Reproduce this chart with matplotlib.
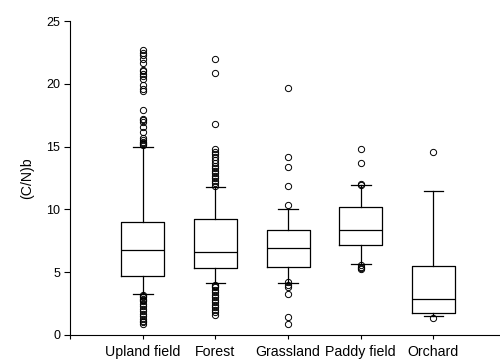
import matplotlib
matplotlib.use("Agg")
import matplotlib.pyplot as plt

plt.rcParams['font.family'] = ['Liberation Sans', 'DejaVu Sans']

categories = ["Upland field", "Forest", "Grassland", "Paddy field", "Orchard"]
q1 = [4.7, 5.3, 5.4, 7.2, 1.75]
med = [6.8, 6.65, 6.9, 8.4, 2.9]
q3 = [9.0, 9.25, 8.4, 10.2, 5.5]
whislo = [3.3, 4.15, 4.15, 5.65, 1.5]
whishi = [15.0, 11.8, 10.05, 11.95, 11.5]
fliers_upland = [15.1, 15.2, 15.3, 15.4, 15.5, 15.7, 16.2, 16.6, 17.0, 17.1, 17.2, 17.9,
                 19.4, 19.6, 19.9, 20.4, 20.6, 20.8, 21.0, 21.1, 21.7, 22.0, 22.3, 22.5, 22.7,
                 3.2, 3.1, 3.0, 2.9, 2.8, 2.7, 2.5, 2.3, 2.1, 1.9, 1.7, 1.5, 1.3, 1.1, 1.0, 0.9]
fliers_forest = [11.9, 12.1, 12.3, 12.5, 12.7, 12.9, 13.1, 13.3, 13.5, 13.7, 13.9, 14.2,
                 14.4, 14.6, 14.8, 16.8, 20.9, 22.0,
                 4.0, 3.9, 3.8, 3.6, 3.4, 3.2, 3.0, 2.8, 2.6, 2.4, 2.2, 2.0, 1.8, 1.6]
fliers_grass = [10.35, 11.85, 13.35, 14.15, 19.7, 4.25, 4.0, 3.8, 3.3, 1.4, 0.9]
fliers_paddy = [11.95, 12.05, 13.7, 14.8, 5.55, 5.45, 5.35, 5.25]
fliers_orchard = [14.55, 1.35]
fliers = [fliers_upland, fliers_forest, fliers_grass, fliers_paddy, fliers_orchard]

stats = []
for i, name in enumerate(categories):
    stats.append(dict(label=name, q1=q1[i], med=med[i], q3=q3[i],
                      whislo=whislo[i], whishi=whishi[i], fliers=fliers[i]))

fig = plt.figure(figsize=(5.0, 3.62), dpi=100)
ax = fig.add_axes([0.14, 0.0746, 0.86, 0.867])

positions = [1, 2, 3, 4, 5]
ax.bxp(stats, positions=positions, widths=0.59, capwidths=0.27,
       boxprops=dict(color='black', linewidth=0.9),
       medianprops=dict(color='black', linewidth=0.9),
       whiskerprops=dict(color='black', linewidth=0.9),
       capprops=dict(color='black', linewidth=0.9),
       flierprops=dict(marker='o', markerfacecolor='none', markeredgecolor='black',
                       markersize=4.5, markeredgewidth=0.7))

ax.set_xlim(0, 5.915)
ax.set_ylim(0, 25)
ax.set_xticks([0] + positions)
ax.set_xticklabels([''] + categories, fontsize=10.2)
ax.set_yticks([0, 5, 10, 15, 20, 25])
ax.tick_params(axis='both', direction='out', length=4, width=0.8, labelsize=9, pad=3)
ax.tick_params(axis='x', pad=4, labelsize=10.2, length=3)
ax.set_ylabel("(C/N)b", fontsize=10.2, labelpad=9)
ax.spines['top'].set_visible(False)
ax.spines['right'].set_visible(False)
ax.spines['left'].set_linewidth(0.8)
ax.spines['bottom'].set_linewidth(0.8)

fig.savefig("out.png", dpi=100)
